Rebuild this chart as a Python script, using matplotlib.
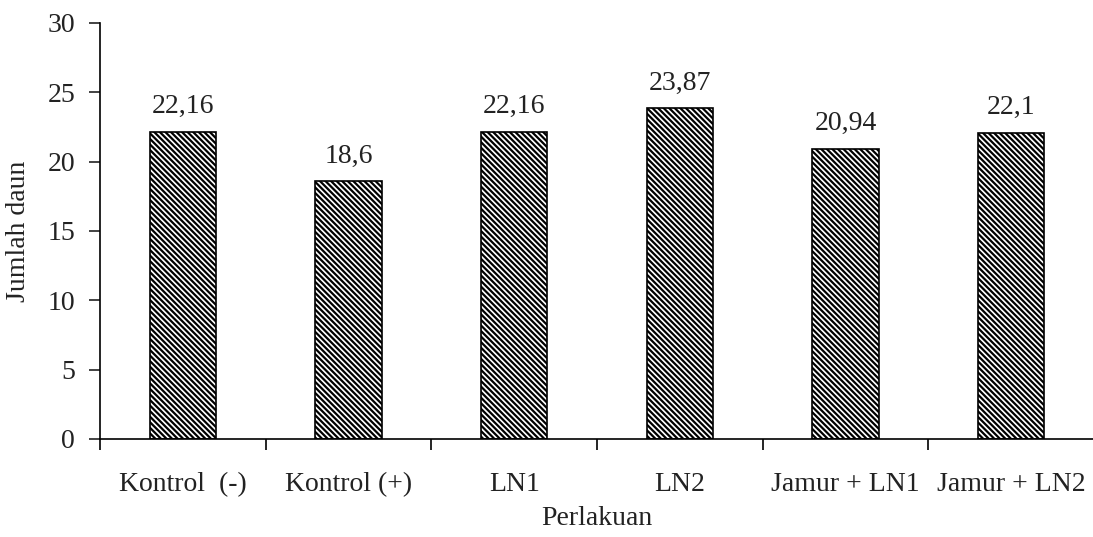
import numpy as np
import matplotlib.pyplot as plt

perlakuan = ['Kontrol  (-)', 'Kontrol (+)', 'LN1', 'LN2', 'Jamur + LN1', 'Jamur + LN2']
jumlah_daun = [22.16, 18.6, 22.16, 23.87, 20.94, 22.1]
label_nilai = ['22,16', '18,6', '22,16', '23,87', '20,94', '22,1']

plt.rcParams['font.family'] = 'Liberation Serif'
plt.rcParams['hatch.linewidth'] = 1.6
plt.rcParams['hatch.color'] = 'black'

fig = plt.figure(figsize=(10.93, 5.37), dpi=100)
ax = fig.add_axes([100 / 1093, 98 / 537, 994 / 1093, 416 / 537])

x = np.arange(len(perlakuan))
bars = ax.bar(x, jumlah_daun, width=0.4, color='white', edgecolor='black',
              linewidth=1.2, hatch='\\\\\\\\\\\\')

for xi, v, t in zip(x, jumlah_daun, label_nilai):
    ax.text(xi, v + 0.9, t, ha='center', va='bottom', fontsize=20, color='#222222')

ax.set_xlim(-0.5, len(perlakuan) - 0.5)
ax.set_ylim(0, 30)
ax.set_yticks(range(0, 31, 5))
ax.tick_params(axis='y', labelsize=20, length=8, width=1.2, direction='out', pad=10,
               colors='#222222')
ax.set_xticks(np.arange(-0.5, len(perlakuan), 1.0))
ax.set_xticklabels([])
ax.tick_params(axis='x', length=8, width=1.2, direction='out')
ax.set_xticks(x, minor=True)
ax.set_xticklabels(perlakuan, minor=True)
ax.tick_params(axis='x', which='minor', length=0, labelsize=20, pad=24, colors='#222222')

ax.spines['top'].set_visible(False)
ax.spines['right'].set_visible(False)
ax.spines['left'].set_linewidth(1.2)
ax.spines['bottom'].set_linewidth(1.2)

ax.set_ylabel('Jumlah daun', fontsize=20, color='#222222', labelpad=12)
ax.set_xlabel('Perlakuan', fontsize=20, color='#222222', labelpad=6)

fig.savefig('out.png', dpi=100)
